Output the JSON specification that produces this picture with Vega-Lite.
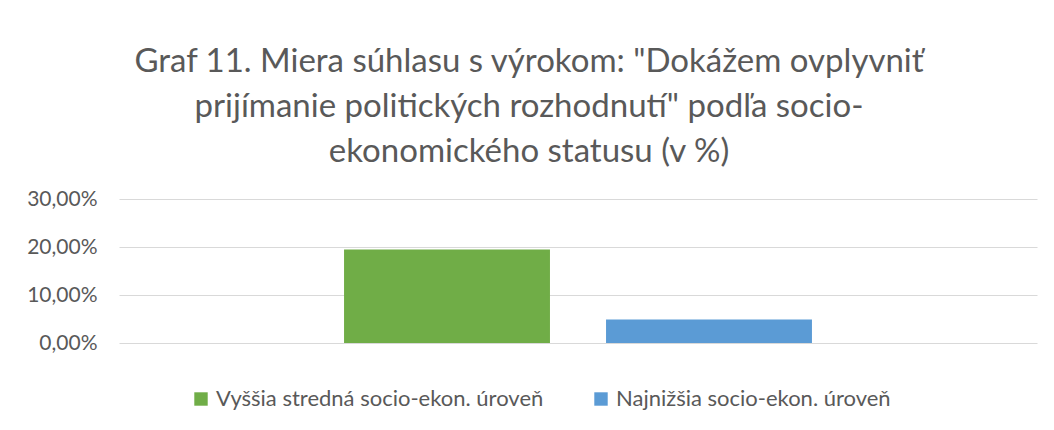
{
  "$schema": "https://vega.github.io/schema/vega-lite/v6.json",
  "width": 918,
  "height": 144,
  "autosize": {"type": "none"},
  "padding": {"left": 119, "top": 199, "right": 17, "bottom": 87},
  "background": "white",
  "config": {
    "font": "Lato",
    "view": {"stroke": null},
    "locale": {"number": {"decimal": ",", "thousands": " ", "grouping": [3], "currency": ["", " €"]}}
  },
  "title": {
    "text": ["Graf 11. Miera súhlasu s výrokom: \"Dokážem ovplyvniť", "prijímanie politických rozhodnutí\" podľa socio-", "ekonomického statusu (v %)"],
    "fontSize": 33,
    "font": "Lato",
    "fontWeight": "normal",
    "color": "#595959",
    "lineHeight": 45,
    "anchor": "middle",
    "dx": -49,
    "offset": 19
  },
  "data": {
    "values": [
      {"series": "Vyššia stredná socio-ekon. úroveň", "value": 0.195},
      {"series": "Najnižšia socio-ekon. úroveň", "value": 0.049}
    ]
  },
  "mark": {"type": "bar"},
  "encoding": {
    "x": {
      "field": "series",
      "type": "nominal",
      "sort": null,
      "axis": null,
      "scale": {"paddingInner": 0.214, "paddingOuter": 0.859}
    },
    "y": {
      "field": "value",
      "type": "quantitative",
      "scale": {"domain": [0, 0.3]},
      "axis": {
        "title": null,
        "format": ".2%",
        "values": [0, 0.1, 0.2, 0.3],
        "domain": false,
        "ticks": false,
        "grid": true,
        "gridColor": "#d9d9d9",
        "gridWidth": 1,
        "labelColor": "#595959",
        "labelFontSize": 21,
        "labelPadding": 22
      }
    },
    "color": {
      "field": "series",
      "type": "nominal",
      "sort": null,
      "scale": {"range": ["#70AD47", "#5B9BD5"]},
      "legend": {
        "title": null,
        "orient": "none",
        "direction": "horizontal",
        "legendX": 71,
        "legendY": 189,
        "symbolType": "square",
        "symbolSize": 180,
        "symbolStrokeWidth": 0,
        "labelFontSize": 22,
        "labelColor": "#595959",
        "labelOffset": 4,
        "columnPadding": 46,
        "labelLimit": 500
      }
    }
  }
}
